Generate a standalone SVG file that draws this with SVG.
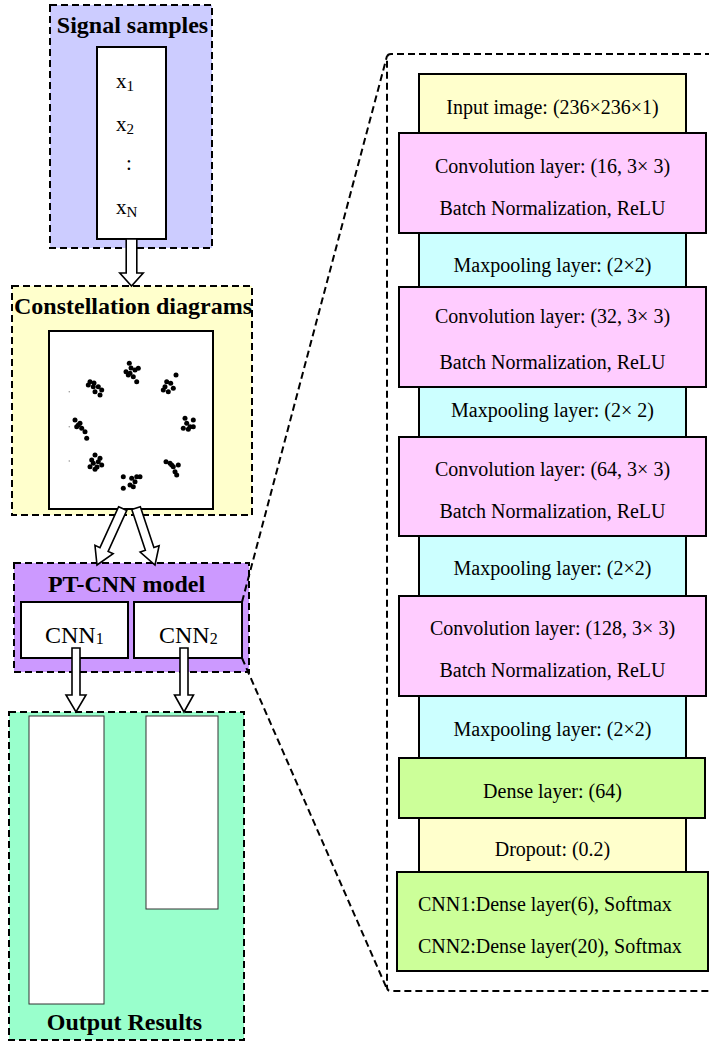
<svg xmlns="http://www.w3.org/2000/svg" width="709" height="1042" viewBox="0 0 709 1042">
<defs>
<style>
.dash{stroke:#000;stroke-width:2;stroke-dasharray:7,4;}
.box{stroke:#000;stroke-width:2;}
.t{font-family:"Liberation Serif","Times New Roman",serif;fill:#000;}
.title{font-family:"Liberation Serif","Times New Roman",serif;font-weight:bold;font-size:24px;fill:#000;text-anchor:middle;}
.lt{font-family:"Liberation Serif","Times New Roman",serif;font-size:20px;fill:#000;text-anchor:middle;}
.arrow{fill:#fff;stroke:#000;stroke-width:1.6;stroke-linejoin:miter;}
.dot circle{fill:#000;r:2.5px;}
.conv{fill:#FFCCFF;}
.pool{fill:#CCFFFF;}
.yel{fill:#FFFFCC;}
.grn{fill:#CCFF99;}
</style>
</defs>
<rect width="709" height="1042" fill="#fff"/>

<g id="signal-samples">
<rect x="50" y="5" width="162" height="243" fill="#CCCCFF" class="dash"/>
<text class="title" x="132.5" y="33">Signal samples</text>
<rect x="97" y="47" width="69" height="192" fill="#fff" class="box"/>
<text class="t" font-size="21" x="116" y="88">x<tspan font-size="15" dy="3">1</tspan></text>
<text class="t" font-size="21" x="116" y="131">x<tspan font-size="15" dy="3">2</tspan></text>
<text class="t" font-size="21" x="126" y="170">:</text>
<text class="t" font-size="21" x="116" y="214">x<tspan font-size="15" dy="3">N</tspan></text>
</g>

<g id="constellation-diagrams">
<rect x="12" y="286" width="240" height="229" fill="#FFFFCC" class="dash"/>
<text class="title" x="133" y="314">Constellation diagrams</text>
<rect x="49" y="331" width="164" height="178" fill="#fff" class="box"/>
<g class="dot">
<circle cx="129.3" cy="363.3" r="2.5"/><circle cx="126" cy="371.7" r="2.5"/><circle cx="130" cy="373.3" r="2.5"/><circle cx="135" cy="370" r="2.5"/><circle cx="138.3" cy="368.3" r="2.5"/><circle cx="133.3" cy="376.7" r="2.5"/><circle cx="136.7" cy="381.7" r="2.5"/><circle cx="128.3" cy="375" r="2.5"/><circle cx="131" cy="368" r="2.5"/>
<circle cx="176" cy="375" r="2.5"/><circle cx="166.7" cy="381.7" r="2.5"/><circle cx="170.7" cy="383.3" r="2.5"/><circle cx="163.3" cy="390" r="2.5"/><circle cx="168.3" cy="391.7" r="2.5"/><circle cx="173.3" cy="388.3" r="2.5"/><circle cx="165" cy="386.7" r="2.5"/>
<circle cx="90" cy="381.7" r="2.5"/><circle cx="93.3" cy="386.7" r="2.5"/><circle cx="98.3" cy="386.7" r="2.5"/><circle cx="101.7" cy="390" r="2.5"/><circle cx="95" cy="391.7" r="2.5"/><circle cx="100" cy="395" r="2.5"/><circle cx="88.3" cy="385" r="2.5"/><circle cx="94" cy="383" r="2.5"/>
<circle cx="185" cy="418.3" r="2.5"/><circle cx="186.7" cy="423.3" r="2.5"/><circle cx="190" cy="426.7" r="2.5"/><circle cx="193.3" cy="420" r="2.5"/><circle cx="183.3" cy="428.3" r="2.5"/><circle cx="188.3" cy="429.3" r="2.5"/><circle cx="193.3" cy="426.7" r="2.5"/>
<circle cx="75" cy="420" r="2.5"/><circle cx="78.3" cy="425" r="2.5"/><circle cx="81.7" cy="428.3" r="2.5"/><circle cx="85" cy="431.7" r="2.5"/><circle cx="86.7" cy="438.3" r="2.5"/><circle cx="76.7" cy="426.7" r="2.5"/><circle cx="80" cy="423.3" r="2.5"/>
<circle cx="95" cy="455" r="2.5"/><circle cx="91.7" cy="460" r="2.5"/><circle cx="98.3" cy="461.7" r="2.5"/><circle cx="90" cy="466.7" r="2.5"/><circle cx="95" cy="469.3" r="2.5"/><circle cx="101.7" cy="465" r="2.5"/><circle cx="100" cy="458.3" r="2.5"/><circle cx="93.3" cy="463.3" r="2.5"/><circle cx="97" cy="467" r="2.5"/>
<circle cx="166" cy="461.7" r="2.5"/><circle cx="170" cy="463.3" r="2.5"/><circle cx="173.3" cy="466.7" r="2.5"/><circle cx="178.3" cy="465" r="2.5"/><circle cx="175" cy="471.7" r="2.5"/><circle cx="171.7" cy="465" r="2.5"/><circle cx="176.7" cy="475" r="2.5"/>
<circle cx="123.3" cy="476.7" r="2.5"/><circle cx="131.7" cy="478.3" r="2.5"/><circle cx="136.7" cy="476.7" r="2.5"/><circle cx="140" cy="476.7" r="2.5"/><circle cx="135" cy="481.7" r="2.5"/><circle cx="130" cy="485" r="2.5"/><circle cx="123.3" cy="488.3" r="2.5"/><circle cx="133.3" cy="486.7" r="2.5"/>
</g>
<g fill="#999"><circle cx="69.3" cy="391.7" r="0.8"/><circle cx="69.3" cy="426.7" r="0.8"/><circle cx="69.3" cy="461" r="0.8"/></g>
</g>

<g id="pt-cnn-model">
<rect x="14" y="563" width="235" height="109" fill="#CC99FF" class="dash"/>
<text class="title" x="126.5" y="592">PT-CNN model</text>
<g id="cnn1">
<rect x="21" y="602" width="107" height="56" fill="#fff" class="box"/>
<text class="t" font-size="24" x="45" y="643">CNN<tspan font-size="16" dy="1">1</tspan></text>
</g>
<g id="cnn2">
<rect x="134" y="602" width="108" height="56" fill="#fff" class="box"/>
<text class="t" font-size="24" x="159" y="643">CNN<tspan font-size="16" dy="1">2</tspan></text>
</g>
</g>

<g id="output-results">
<rect x="9" y="712" width="235" height="328" fill="#99FFCC" class="dash"/>
<rect x="29" y="716" width="75" height="288" fill="#fff" stroke="#333" stroke-width="1"/>
<rect x="146" y="716" width="72" height="193" fill="#fff" stroke="#333" stroke-width="1"/>
<text class="title" x="124.5" y="1030">Output Results</text>
</g>

<g id="cnn-architecture">
<path d="M712,54 L391,54 Q387,54 387,58 L387,987 Q387,991 391,991 L712,991" fill="none" class="dash"/>
<g id="input-layer"><rect x="419" y="74" width="267" height="59" class="yel box"/><text class="lt" x="552.5" y="114">Input image: (236×236×1)</text></g>
<g id="maxpool1"><rect x="419" y="233" width="267" height="54" class="pool box"/><text class="lt" x="552.5" y="272">Maxpooling layer: (2×2)</text></g>
<g id="conv1"><rect x="399" y="133" width="307" height="100" class="conv box"/><text class="lt" x="552.5" y="173">Convolution layer: (16, 3× 3)</text><text class="lt" x="552.5" y="215">Batch Normalization, ReLU</text></g>
<g id="maxpool2"><rect x="419" y="387" width="267" height="50" class="pool box"/><text class="lt" x="552.5" y="417">Maxpooling layer: (2× 2)</text></g>
<g id="conv2"><rect x="399" y="287" width="307" height="100" class="conv box"/><text class="lt" x="552.5" y="323">Convolution layer: (32, 3× 3)</text><text class="lt" x="552.5" y="369">Batch Normalization, ReLU</text></g>
<g id="maxpool3"><rect x="419" y="536" width="267" height="60" class="pool box"/><text class="lt" x="552.5" y="575">Maxpooling layer: (2×2)</text></g>
<g id="conv3"><rect x="399" y="437" width="307" height="99" class="conv box"/><text class="lt" x="552.5" y="476">Convolution layer: (64, 3× 3)</text><text class="lt" x="552.5" y="518">Batch Normalization, ReLU</text></g>
<g id="maxpool4"><rect x="419" y="696" width="267" height="62" class="pool box"/><text class="lt" x="552.5" y="736">Maxpooling layer: (2×2)</text></g>
<g id="conv4"><rect x="399" y="596" width="307" height="100" class="conv box"/><text class="lt" x="552.5" y="635">Convolution layer: (128, 3× 3)</text><text class="lt" x="552.5" y="677">Batch Normalization, ReLU</text></g>
<g id="dropout"><rect x="419" y="818" width="267" height="54" class="yel box"/><text class="lt" x="552.5" y="856">Dropout: (0.2)</text></g>
<g id="dense"><rect x="399" y="758" width="306" height="60" class="grn box"/><text class="lt" x="552.5" y="798">Dense layer: (64)</text></g>
<g id="output-layer"><rect x="397" y="872" width="311" height="99" class="grn box"/><text class="t" font-size="20" x="418" y="911">CNN1:Dense layer(6), Softmax</text><text class="t" font-size="20" x="418" y="953">CNN2:Dense layer(20), Softmax</text></g>
</g>

<g id="connectors">
<path class="arrow" transform="translate(131.5,286)" d="M-5.3,-47 L5.3,-47 L5.3,-13 L11.7,-13 L0,0 L-11.7,-13 L-5.3,-13 Z"/>
<path class="arrow" transform="translate(97,565) rotate(24.5)" d="M-4.5,-62 L4.5,-62 L4.5,-17 L10,-17 L0,0 L-10,-17 L-4.5,-17 Z"/>
<path class="arrow" transform="translate(155,565) rotate(-18.4)" d="M-4.5,-60 L4.5,-60 L4.5,-17 L10,-17 L0,0 L-10,-17 L-4.5,-17 Z"/>
<path class="arrow" transform="translate(76,712)" d="M-4,-64 L4,-64 L4,-17 L10,-17 L0,0 L-10,-17 L-4,-17 Z"/>
<path class="arrow" transform="translate(184,712)" d="M-4,-64 L4,-64 L4,-17 L9.5,-17 L0,0 L-9.5,-17 L-4,-17 Z"/>
<line x1="242" y1="602" x2="387" y2="56" fill="none" class="dash"/>
<line x1="242" y1="658" x2="387" y2="989" fill="none" class="dash"/>
</g>
</svg>
